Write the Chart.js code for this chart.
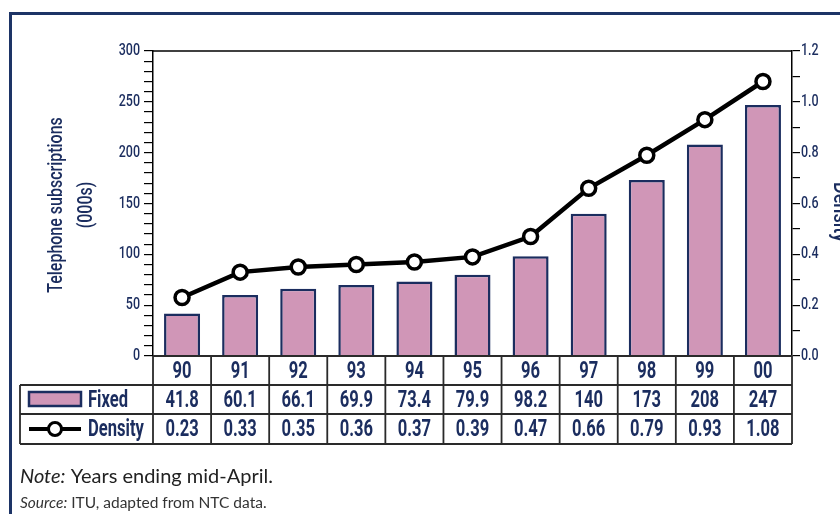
<!DOCTYPE html>
<html><head><meta charset="utf-8">
<script src="https://cdn.jsdelivr.net/npm/chart.js@4"></script>
<style>html,body{margin:0;padding:0;background:#fff;}#wrap{width:840px;height:514px;position:relative;}</style>
</head><body><div id="wrap"><canvas id="c" width="840" height="514"></canvas></div>
<script>
const years = ['90','91','92','93','94','95','96','97','98','99','00'];
const fixedValues = [41.8,60.1,66.1,69.9,73.4,79.9,98.2,140,173,208,247];
const densityValues = [0.23,0.33,0.35,0.36,0.37,0.39,0.47,0.66,0.79,0.93,1.08];
const fixedLabels = ['41.8','60.1','66.1','69.9','73.4','79.9','98.2','140','173','208','247'];
const densityLabels = ['0.23','0.33','0.35','0.36','0.37','0.39','0.47','0.66','0.79','0.93','1.08'];
const seriesNames = ['Fixed','Density'];
const leftTitle = ['Telephone subscriptions','(000s)'];
const rightTitle = 'Density';
const noteText = ['Note:',' Years ending mid-April.'];
const sourceText = ['Source:',' ITU, adapted from NTC data.'];

const NAVY = '#1b2d5f';
const PINK = '#d096b7';
const COND = "Roboto, 'Liberation Sans', sans-serif";
const BODY = "Lato, 'Open Sans', sans-serif";

function condText(ctx, text, x, y, size, align, weight, sx) {
  ctx.save();
  ctx.font = (weight || 'bold') + ' ' + size + 'px ' + COND;
  ctx.textAlign = align; ctx.textBaseline = 'middle';
  ctx.translate(x, y); ctx.scale(sx || 0.82, 1);
  ctx.fillText(text, 0, 0);
  ctx.restore();
}

const tablePlugin = {
  id: 'tablePlugin',
  beforeDraw(chart) {
    const ctx = chart.ctx;
    ctx.save();
    ctx.fillStyle = '#fff';
    ctx.fillRect(0,0,chart.width,chart.height);
    ctx.strokeStyle = '#1d3466';
    ctx.lineWidth = 3;
    ctx.beginPath();
    ctx.moveTo(10.5, 530); ctx.lineTo(10.5, 13.5); ctx.lineTo(860, 13.5);
    ctx.stroke();
    ctx.restore();
  },
  afterDraw(chart) {
    const ctx = chart.ctx;
    const a = chart.chartArea;
    const x = chart.scales.x;
    const n = years.length;
    const cw = (a.right - a.left) / n;
    ctx.save();
    // top border of plot
    ctx.strokeStyle = '#000'; ctx.lineWidth = 1.5;
    ctx.beginPath(); ctx.moveTo(a.left, a.top); ctx.lineTo(a.right, a.top); ctx.stroke();
    // axis tick labels
    ctx.fillStyle = NAVY;
    const yS = chart.scales.y, y1S = chart.scales.y1;
    yS.ticks.forEach((t, i) => {
      if (t.value % 50 === 0) condText(ctx, String(t.value), a.left - 13, yS.getPixelForTick(i), 16, 'right', '500', 0.78);
    });
    y1S.ticks.forEach((t, i) => {
      if (Math.round(t.value * 10) % 2 === 0) condText(ctx, t.value.toFixed(1), a.right + 9, y1S.getPixelForTick(i), 16, 'left', '500', 0.78);
    });
    // table
    const r0 = a.bottom, r1 = r0 + 29, r2 = r1 + 29, r3 = r2 + 30;
    const tl = 20;
    ctx.strokeStyle = '#2a2a2a'; ctx.lineWidth = 1.8;
    ctx.beginPath();
    ctx.moveTo(a.left, r0); ctx.lineTo(a.right, r0);
    [r1, r2, r3].forEach(r => { ctx.moveTo(tl, r); ctx.lineTo(a.right, r); });
    ctx.moveTo(tl, r1); ctx.lineTo(tl, r3);
    for (let i = 0; i <= n; i++) {
      const xx = a.left + i * cw;
      ctx.moveTo(xx, r0); ctx.lineTo(xx, r3);
    }
    ctx.stroke();
    ctx.fillStyle = NAVY;
    const TS = 24, TX = 0.69;
    for (let i = 0; i < n; i++) {
      const cx = x.getPixelForValue(i);
      condText(ctx, years[i], cx, (r0 + r1) / 2 + 1, TS, 'center', 'bold', TX);
      condText(ctx, fixedLabels[i], cx, (r1 + r2) / 2 + 1, TS, 'center', 'bold', TX);
      condText(ctx, densityLabels[i], cx, (r2 + r3) / 2 + 1, TS, 'center', 'bold', TX);
    }
    // legend
    ctx.fillStyle = PINK; ctx.strokeStyle = NAVY; ctx.lineWidth = 2.5;
    ctx.fillRect(29, r1 + 7, 52, 14); ctx.strokeRect(29, r1 + 7, 52, 14);
    ctx.strokeStyle = '#000'; ctx.lineWidth = 4;
    ctx.beginPath(); ctx.moveTo(29, (r2 + r3) / 2); ctx.lineTo(81, (r2 + r3) / 2); ctx.stroke();
    ctx.fillStyle = '#fff'; ctx.lineWidth = 3;
    ctx.beginPath(); ctx.arc(55, (r2 + r3) / 2, 6.5, 0, Math.PI * 2); ctx.fill(); ctx.stroke();
    ctx.fillStyle = NAVY;
    condText(ctx, seriesNames[0], 88, (r1 + r2) / 2 + 1, TS, 'left', 'bold', TX);
    condText(ctx, seriesNames[1], 88, (r2 + r3) / 2 + 1, TS, 'left', 'bold', TX);
    // axis titles
    ctx.save(); ctx.translate(57, 205); ctx.rotate(-Math.PI / 2); condText(ctx, leftTitle[0], 0, 0, 19.5, 'center', '500', 0.82); ctx.restore();
    ctx.save(); ctx.translate(87, 205); ctx.rotate(-Math.PI / 2); condText(ctx, leftTitle[1], 0, 0, 19.5, 'center', '500', 0.82); ctx.restore();
    ctx.save(); ctx.translate(839, 212); ctx.rotate(Math.PI / 2); condText(ctx, rightTitle, 0, 0, 22, 'center', '500', 0.82); ctx.restore();
    // notes
    ctx.fillStyle = '#222'; ctx.textAlign = 'left'; ctx.textBaseline = 'alphabetic';
    ctx.font = 'italic 20px ' + BODY;
    ctx.fillText(noteText[0], 20, 483);
    let w = ctx.measureText(noteText[0]).width;
    ctx.font = '20px ' + BODY;
    ctx.fillText(noteText[1], 20 + w, 483);
    ctx.fillStyle = '#333';
    ctx.font = 'italic 15.5px ' + BODY;
    ctx.fillText(sourceText[0], 20, 508);
    w = ctx.measureText(sourceText[0]).width;
    ctx.font = '15.5px ' + BODY;
    ctx.fillText(sourceText[1], 20 + w, 508);
    ctx.restore();
  }
};

new Chart(document.getElementById('c'), {
  data: {
    labels: years,
    datasets: [
      { type: 'line', label: seriesNames[1], data: densityValues, yAxisID: 'y1', order: 0,
        borderColor: '#000', borderWidth: 4.5, pointRadius: 7, pointHoverRadius: 7,
        pointBorderWidth: 3.5, pointBackgroundColor: '#fff', pointBorderColor: '#000', tension: 0 },
      { type: 'bar', label: seriesNames[0], data: fixedValues, yAxisID: 'y', order: 1,
        backgroundColor: PINK, borderColor: NAVY, borderWidth: 2.5,
        categoryPercentage: 1, barPercentage: 0.62 }
    ]
  },
  options: {
    responsive: false, animation: false,
    layout: { padding: { top: 51, bottom: 158, left: 0, right: 0 } },
    plugins: { legend: { display: false }, tooltip: { enabled: false } },
    scales: {
      x: { type: 'category', display: false, offset: true },
      y: { position: 'left', min: 0, max: 300,
        afterFit: s => { s.width = 153; },
        border: { display: true, color: '#000', width: 1.5 },
        grid: { drawOnChartArea: false, drawTicks: true, tickLength: 9, color: '#000', lineWidth: 1.2 },
        ticks: { stepSize: 10, autoSkip: false, padding: 3, color: 'rgba(0,0,0,0)', font: { size: 15 },
          callback: v => (v % 50 === 0 ? String(v) : '') } },
      y1: { position: 'right', min: 0, max: 1.2,
        afterFit: s => { s.width = 48; },
        border: { display: true, color: '#000', width: 1.5 },
        grid: { drawOnChartArea: false, drawTicks: true, tickLength: 8, color: '#000', lineWidth: 1.2 },
        ticks: { stepSize: 0.1, autoSkip: false, padding: 2, color: 'rgba(0,0,0,0)', font: { size: 15 },
          callback: v => (Math.round(v * 10) % 2 === 0 ? v.toFixed(1) : '') } }
    }
  },
  plugins: [tablePlugin]
});
</script></body></html>
